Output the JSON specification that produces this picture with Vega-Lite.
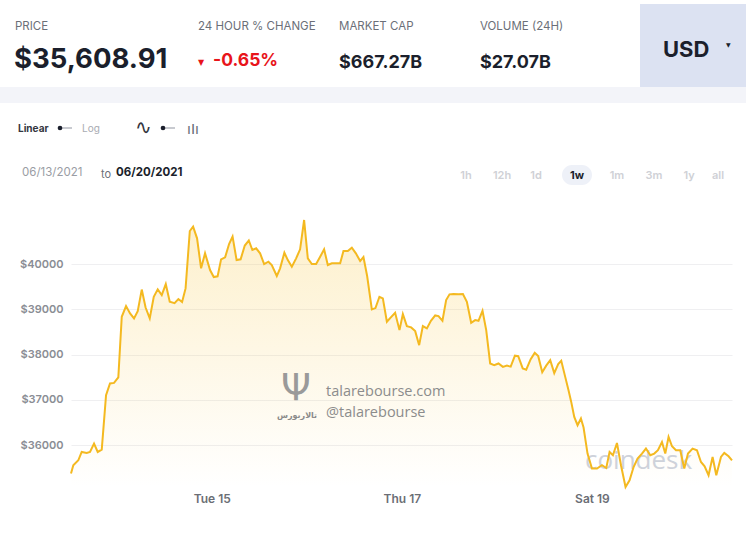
{
  "$schema": "https://vega.github.io/schema/vega-lite/v6.json",
  "autosize": "none",
  "width": 661,
  "height": 267,
  "padding": {"left": 71, "top": 220, "right": 18, "bottom": 50},
  "background": "#ffffff",
  "config": {"view": {"stroke": null}, "font": "Inter"},
  "data": {"values": [
    {"time": "2021-06-13T12:27", "price": 35370},
    {"time": "2021-06-13T13:02", "price": 35554},
    {"time": "2021-06-13T14:18", "price": 35664},
    {"time": "2021-06-13T15:09", "price": 35848},
    {"time": "2021-06-13T16:25", "price": 35826},
    {"time": "2021-06-13T17:15", "price": 35848},
    {"time": "2021-06-13T18:16", "price": 36034},
    {"time": "2021-06-13T19:12", "price": 35848},
    {"time": "2021-06-13T20:13", "price": 35901},
    {"time": "2021-06-13T21:18", "price": 37102},
    {"time": "2021-06-13T22:18", "price": 37361},
    {"time": "2021-06-13T23:19", "price": 37374},
    {"time": "2021-06-14T00:24", "price": 37494},
    {"time": "2021-06-14T01:16", "price": 38834},
    {"time": "2021-06-14T02:21", "price": 39071},
    {"time": "2021-06-14T03:22", "price": 38909},
    {"time": "2021-06-14T04:22", "price": 38799},
    {"time": "2021-06-14T05:18", "price": 38960},
    {"time": "2021-06-14T06:19", "price": 39436},
    {"time": "2021-06-14T07:17", "price": 39038},
    {"time": "2021-06-14T08:20", "price": 38799},
    {"time": "2021-06-14T09:21", "price": 39277},
    {"time": "2021-06-14T10:21", "price": 39440},
    {"time": "2021-06-14T11:22", "price": 39314},
    {"time": "2021-06-14T12:23", "price": 39558},
    {"time": "2021-06-14T13:23", "price": 39166},
    {"time": "2021-06-14T14:36", "price": 39137},
    {"time": "2021-06-14T15:34", "price": 39226},
    {"time": "2021-06-14T16:30", "price": 39159},
    {"time": "2021-06-14T17:23", "price": 39462},
    {"time": "2021-06-14T18:27", "price": 40730},
    {"time": "2021-06-14T19:17", "price": 40825},
    {"time": "2021-06-14T20:17", "price": 40568},
    {"time": "2021-06-14T21:18", "price": 39905},
    {"time": "2021-06-14T22:18", "price": 40237},
    {"time": "2021-06-14T23:34", "price": 39867},
    {"time": "2021-06-15T00:30", "price": 39712},
    {"time": "2021-06-15T01:28", "price": 39728},
    {"time": "2021-06-15T02:21", "price": 40104},
    {"time": "2021-06-15T03:22", "price": 40148},
    {"time": "2021-06-15T04:22", "price": 40442},
    {"time": "2021-06-15T05:15", "price": 40608},
    {"time": "2021-06-15T06:16", "price": 40088},
    {"time": "2021-06-15T07:17", "price": 40104},
    {"time": "2021-06-15T08:20", "price": 40409},
    {"time": "2021-06-15T09:21", "price": 40520},
    {"time": "2021-06-15T10:15", "price": 40310},
    {"time": "2021-06-15T11:12", "price": 40347},
    {"time": "2021-06-15T12:12", "price": 40237},
    {"time": "2021-06-15T13:13", "price": 40000},
    {"time": "2021-06-15T14:18", "price": 40051},
    {"time": "2021-06-15T15:09", "price": 39978},
    {"time": "2021-06-15T16:25", "price": 39735},
    {"time": "2021-06-15T17:15", "price": 39905},
    {"time": "2021-06-15T18:20", "price": 40250},
    {"time": "2021-06-15T19:12", "price": 40088},
    {"time": "2021-06-15T20:13", "price": 39940},
    {"time": "2021-06-15T21:18", "price": 40126},
    {"time": "2021-06-15T22:18", "price": 40325},
    {"time": "2021-06-15T23:19", "price": 40973},
    {"time": "2021-06-16T00:15", "price": 40126},
    {"time": "2021-06-16T01:16", "price": 40000},
    {"time": "2021-06-16T02:21", "price": 40000},
    {"time": "2021-06-16T03:22", "price": 40161},
    {"time": "2021-06-16T04:22", "price": 40325},
    {"time": "2021-06-16T05:18", "price": 39978},
    {"time": "2021-06-16T06:19", "price": 40015},
    {"time": "2021-06-16T07:35", "price": 40015},
    {"time": "2021-06-16T08:25", "price": 40015},
    {"time": "2021-06-16T09:15", "price": 40288},
    {"time": "2021-06-16T10:21", "price": 40288},
    {"time": "2021-06-16T11:22", "price": 40361},
    {"time": "2021-06-16T12:23", "price": 40237},
    {"time": "2021-06-16T13:28", "price": 40066},
    {"time": "2021-06-16T14:18", "price": 40155},
    {"time": "2021-06-16T15:14", "price": 39735},
    {"time": "2021-06-16T16:25", "price": 38998},
    {"time": "2021-06-16T17:20", "price": 39027},
    {"time": "2021-06-16T18:20", "price": 39277},
    {"time": "2021-06-16T19:12", "price": 39241},
    {"time": "2021-06-16T20:13", "price": 38724},
    {"time": "2021-06-16T21:13", "price": 38821},
    {"time": "2021-06-16T22:18", "price": 38923},
    {"time": "2021-06-16T23:24", "price": 38540},
    {"time": "2021-06-17T00:15", "price": 38894},
    {"time": "2021-06-17T01:16", "price": 38629},
    {"time": "2021-06-17T02:21", "price": 38600},
    {"time": "2021-06-17T03:22", "price": 38518},
    {"time": "2021-06-17T04:22", "price": 38208},
    {"time": "2021-06-17T05:18", "price": 38629},
    {"time": "2021-06-17T06:19", "price": 38578},
    {"time": "2021-06-17T07:20", "price": 38746},
    {"time": "2021-06-17T08:25", "price": 38865},
    {"time": "2021-06-17T09:15", "price": 38850},
    {"time": "2021-06-17T10:15", "price": 38746},
    {"time": "2021-06-17T11:11", "price": 39204},
    {"time": "2021-06-17T12:02", "price": 39330},
    {"time": "2021-06-17T13:02", "price": 39336},
    {"time": "2021-06-17T14:18", "price": 39330},
    {"time": "2021-06-17T15:25", "price": 39336},
    {"time": "2021-06-17T16:25", "price": 39166},
    {"time": "2021-06-17T17:30", "price": 38702},
    {"time": "2021-06-17T18:31", "price": 38761},
    {"time": "2021-06-17T19:21", "price": 38746},
    {"time": "2021-06-17T20:22", "price": 38967},
    {"time": "2021-06-17T21:18", "price": 38540},
    {"time": "2021-06-17T22:18", "price": 37803},
    {"time": "2021-06-17T23:19", "price": 37766},
    {"time": "2021-06-18T00:24", "price": 37803},
    {"time": "2021-06-18T01:31", "price": 37728},
    {"time": "2021-06-18T02:32", "price": 37755},
    {"time": "2021-06-18T03:29", "price": 37733},
    {"time": "2021-06-18T04:33", "price": 37976},
    {"time": "2021-06-18T05:23", "price": 37965},
    {"time": "2021-06-18T06:31", "price": 37693},
    {"time": "2021-06-18T07:24", "price": 37666},
    {"time": "2021-06-18T08:32", "price": 37899},
    {"time": "2021-06-18T09:33", "price": 38038},
    {"time": "2021-06-18T10:26", "price": 37965},
    {"time": "2021-06-18T11:27", "price": 37611},
    {"time": "2021-06-18T12:27", "price": 37755},
    {"time": "2021-06-18T13:28", "price": 37876},
    {"time": "2021-06-18T14:29", "price": 37589},
    {"time": "2021-06-18T15:29", "price": 37788},
    {"time": "2021-06-18T16:15", "price": 37861},
    {"time": "2021-06-18T17:15", "price": 37507},
    {"time": "2021-06-18T18:05", "price": 37213},
    {"time": "2021-06-18T18:46", "price": 36954},
    {"time": "2021-06-18T19:32", "price": 36622},
    {"time": "2021-06-18T20:22", "price": 36439},
    {"time": "2021-06-18T21:13", "price": 36587},
    {"time": "2021-06-18T21:53", "price": 36388},
    {"time": "2021-06-18T22:53", "price": 35813},
    {"time": "2021-06-19T00:00", "price": 35481},
    {"time": "2021-06-19T01:16", "price": 35481},
    {"time": "2021-06-19T02:32", "price": 35554},
    {"time": "2021-06-19T03:37", "price": 35494},
    {"time": "2021-06-19T04:27", "price": 35848},
    {"time": "2021-06-19T05:18", "price": 35775},
    {"time": "2021-06-19T06:19", "price": 36047},
    {"time": "2021-06-19T07:20", "price": 35554},
    {"time": "2021-06-19T08:29", "price": 35074},
    {"time": "2021-06-19T09:30", "price": 35222},
    {"time": "2021-06-19T10:31", "price": 35516},
    {"time": "2021-06-19T11:31", "price": 35702},
    {"time": "2021-06-19T12:38", "price": 35813},
    {"time": "2021-06-19T13:38", "price": 35923},
    {"time": "2021-06-19T14:44", "price": 35775},
    {"time": "2021-06-19T15:44", "price": 35813},
    {"time": "2021-06-19T16:40", "price": 35886},
    {"time": "2021-06-19T17:41", "price": 36069},
    {"time": "2021-06-19T18:31", "price": 35813},
    {"time": "2021-06-19T19:21", "price": 36180},
    {"time": "2021-06-19T20:13", "price": 35974},
    {"time": "2021-06-19T21:13", "price": 35886},
    {"time": "2021-06-19T22:18", "price": 35886},
    {"time": "2021-06-19T23:19", "price": 35481},
    {"time": "2021-06-20T00:15", "price": 35813},
    {"time": "2021-06-20T01:25", "price": 35923},
    {"time": "2021-06-20T02:31", "price": 35886},
    {"time": "2021-06-20T03:32", "price": 35627},
    {"time": "2021-06-20T04:27", "price": 35532},
    {"time": "2021-06-20T05:27", "price": 35333},
    {"time": "2021-06-20T06:28", "price": 35737},
    {"time": "2021-06-20T07:24", "price": 35333},
    {"time": "2021-06-20T08:35", "price": 35737},
    {"time": "2021-06-20T09:25", "price": 35826},
    {"time": "2021-06-20T10:30", "price": 35753},
    {"time": "2021-06-20T11:22", "price": 35664}
  ]},
  "layer": [
    {"data": {"values": [{}]}, "mark": {"type": "rect", "x": -71, "x2": 675, "y": -133, "y2": -117, "color": "#f3f4f9"}, "encoding": {}},
    {"data": {"values": [{}]}, "mark": {"type": "rect", "x": 569, "x2": 675, "y": -216, "y2": -133, "color": "#dce2f2"}, "encoding": {}},
    {"data": {"values": [{}]}, "mark": {"type": "text", "text": "PRICE", "x": -56, "y": -190, "align": "left", "baseline": "alphabetic", "fontSize": 11.5, "color": "#6b6f78", "font": "Inter"}},
    {"data": {"values": [{}]}, "mark": {"type": "text", "text": "$35,608.91", "x": -57, "y": -152, "align": "left", "baseline": "alphabetic", "fontSize": 27.5, "fontWeight": 700, "color": "#1b1f2c", "font": "Inter"}},
    {"data": {"values": [{}]}, "mark": {"type": "text", "text": "24 HOUR % CHANGE", "x": 127, "y": -190, "align": "left", "baseline": "alphabetic", "fontSize": 11.5, "color": "#6b6f78", "font": "Inter"}},
    {"data": {"values": [{}]}, "mark": {"type": "text", "text": "▼", "x": 127, "y": -155, "align": "left", "baseline": "alphabetic", "fontSize": 8, "color": "#e8141a", "font": "DejaVu Sans"}},
    {"data": {"values": [{}]}, "mark": {"type": "text", "text": "-0.65%", "x": 142, "y": -154, "align": "left", "baseline": "alphabetic", "fontSize": 17.5, "fontWeight": 700, "color": "#e8141a", "font": "Inter"}},
    {"data": {"values": [{}]}, "mark": {"type": "text", "text": "MARKET CAP", "x": 268, "y": -190, "align": "left", "baseline": "alphabetic", "fontSize": 11.5, "color": "#6b6f78", "font": "Inter"}},
    {"data": {"values": [{}]}, "mark": {"type": "text", "text": "$667.27B", "x": 268, "y": -152, "align": "left", "baseline": "alphabetic", "fontSize": 18, "fontWeight": 700, "color": "#1b1f2c", "font": "Inter"}},
    {"data": {"values": [{}]}, "mark": {"type": "text", "text": "VOLUME (24H)", "x": 409, "y": -190, "align": "left", "baseline": "alphabetic", "fontSize": 11.5, "color": "#6b6f78", "font": "Inter"}},
    {"data": {"values": [{}]}, "mark": {"type": "text", "text": "$27.07B", "x": 409, "y": -152, "align": "left", "baseline": "alphabetic", "fontSize": 18, "fontWeight": 700, "color": "#1b1f2c", "font": "Inter"}},
    {"data": {"values": [{}]}, "mark": {"type": "text", "text": "USD", "x": 592, "y": -163, "align": "left", "baseline": "alphabetic", "fontSize": 22, "fontWeight": 700, "color": "#1b1f2c", "font": "Inter"}},
    {"data": {"values": [{}]}, "mark": {"type": "text", "text": "▼", "x": 655, "y": -173, "align": "left", "baseline": "alphabetic", "fontSize": 6, "color": "#1b1f2c", "font": "DejaVu Sans"}},
    {"data": {"values": [{}]}, "mark": {"type": "text", "text": "Linear", "x": -53, "y": -88, "align": "left", "baseline": "alphabetic", "fontSize": 10, "fontWeight": 700, "color": "#333640", "font": "Inter"}},
    {"data": {"values": [{}]}, "mark": {"type": "rect", "x": -11, "x2": 1, "y": -93, "y2": -91, "color": "#c8cad0"}, "encoding": {}},
    {"data": {"values": [{}]}, "mark": {"type": "point", "x": -11, "y": -92, "filled": true, "size": 22, "color": "#1b1f2c", "opacity": 1}},
    {"data": {"values": [{}]}, "mark": {"type": "text", "text": "Log", "x": 11, "y": -88, "align": "left", "baseline": "alphabetic", "fontSize": 10, "color": "#a8abb2", "font": "Inter"}},
    {"data": {"values": [{}]}, "mark": {"type": "text", "text": "∿", "x": 64, "y": -86, "align": "left", "baseline": "alphabetic", "fontSize": 20, "color": "#333640", "font": "DejaVu Sans"}},
    {"data": {"values": [{}]}, "mark": {"type": "rect", "x": 92, "x2": 104, "y": -93, "y2": -91, "color": "#c8cad0"}, "encoding": {}},
    {"data": {"values": [{}]}, "mark": {"type": "point", "x": 92, "y": -92, "filled": true, "size": 22, "color": "#1b1f2c", "opacity": 1}},
    {"data": {"values": [{}]}, "mark": {"type": "text", "text": "ıIı", "x": 116, "y": -86, "align": "left", "baseline": "alphabetic", "fontSize": 14, "color": "#666a72", "font": "DejaVu Sans"}},
    {"data": {"values": [{}]}, "mark": {"type": "text", "text": "06/13/2021", "x": -49, "y": -44, "align": "left", "baseline": "alphabetic", "fontSize": 11.5, "color": "#9a9da4", "font": "Inter"}},
    {"data": {"values": [{}]}, "mark": {"type": "text", "text": "to", "x": 30, "y": -42, "align": "left", "baseline": "alphabetic", "fontSize": 11, "color": "#6b6f78", "font": "Inter"}},
    {"data": {"values": [{}]}, "mark": {"type": "text", "text": "06/20/2021", "x": 45, "y": -44, "align": "left", "baseline": "alphabetic", "fontSize": 11.5, "fontWeight": 700, "color": "#1b1f2c", "font": "Inter"}},
    {"data": {"values": [{}]}, "mark": {"type": "rect", "x": 491, "x2": 521, "y": -55, "y2": -35, "color": "#eef1f8", "cornerRadius": 10}, "encoding": {}},
    {"data": {"values": [{}]}, "mark": {"type": "text", "text": "1h", "x": 395, "y": -41, "align": "center", "baseline": "alphabetic", "fontSize": 11, "fontWeight": 600, "color": "#cfd1d6", "font": "Inter"}},
    {"data": {"values": [{}]}, "mark": {"type": "text", "text": "12h", "x": 431, "y": -41, "align": "center", "baseline": "alphabetic", "fontSize": 11, "fontWeight": 600, "color": "#cfd1d6", "font": "Inter"}},
    {"data": {"values": [{}]}, "mark": {"type": "text", "text": "1d", "x": 465, "y": -41, "align": "center", "baseline": "alphabetic", "fontSize": 11, "fontWeight": 600, "color": "#cfd1d6", "font": "Inter"}},
    {"data": {"values": [{}]}, "mark": {"type": "text", "text": "1w", "x": 506, "y": -41, "align": "center", "baseline": "alphabetic", "fontSize": 11, "fontWeight": 700, "color": "#1b1f2c", "font": "Inter"}},
    {"data": {"values": [{}]}, "mark": {"type": "text", "text": "1m", "x": 546, "y": -41, "align": "center", "baseline": "alphabetic", "fontSize": 11, "fontWeight": 600, "color": "#cfd1d6", "font": "Inter"}},
    {"data": {"values": [{}]}, "mark": {"type": "text", "text": "3m", "x": 583, "y": -41, "align": "center", "baseline": "alphabetic", "fontSize": 11, "fontWeight": 600, "color": "#cfd1d6", "font": "Inter"}},
    {"data": {"values": [{}]}, "mark": {"type": "text", "text": "1y", "x": 618, "y": -41, "align": "center", "baseline": "alphabetic", "fontSize": 11, "fontWeight": 600, "color": "#cfd1d6", "font": "Inter"}},
    {"data": {"values": [{}]}, "mark": {"type": "text", "text": "all", "x": 647, "y": -41, "align": "center", "baseline": "alphabetic", "fontSize": 11, "fontWeight": 600, "color": "#cfd1d6", "font": "Inter"}},
    {
      "mark": {"type": "area", "interpolate": "linear", "color": {"gradient": "linear", "x1": 0, "y1": 0, "x2": 0, "y2": 1, "stops": [{"offset": 0, "color": "rgba(248,200,70,0.28)"}, {"offset": 1, "color": "rgba(248,200,70,0.0)"}]}},
      "encoding": {
        "x": {"field": "time", "type": "temporal", "scale": {"nice": false},
          "axis": {"title": null, "grid": false, "domain": false, "ticks": false, "labelPadding": 6, "labelColor": "#6b6e75", "labelFontSize": 12, "labelFontWeight": 600, "labelFont": "Inter", "format": "%a %d", "labelFlush": false,
            "values": [{"year": 2021, "month": 6, "date": 15}, {"year": 2021, "month": 6, "date": 17}, {"year": 2021, "month": 6, "date": 19}]}},
        "y": {"field": "price", "type": "quantitative", "stack": null, "scale": {"zero": false, "nice": false},
          "axis": {"title": null, "grid": true, "gridColor": "#efeff1", "domain": false, "ticks": false, "labelPadding": 8, "labelColor": "#8a8d94", "labelFontSize": 11, "labelFontWeight": 600, "labelFont": "Inter", "format": "$d",
            "values": [36000, 37000, 38000, 39000, 40000]}}
      }
    },
    {"data": {"values": [{}]}, "mark": {"type": "text", "text": "Ψ", "x": 225, "y": 180, "align": "center", "baseline": "alphabetic", "fontSize": 38, "color": "#9a9a9a", "font": "DejaVu Sans"}},
    {"data": {"values": [{}]}, "mark": {"type": "text", "text": "تالاربورس", "x": 226, "y": 198, "align": "center", "baseline": "alphabetic", "fontSize": 8, "fontWeight": 700, "color": "#8a8a8a", "font": "DejaVu Sans"}},
    {"data": {"values": [{}]}, "mark": {"type": "text", "text": "talarebourse.com", "x": 255, "y": 176, "align": "left", "baseline": "alphabetic", "fontSize": 14.5, "color": "#8c8c8c", "font": "Open Sans"}},
    {"data": {"values": [{}]}, "mark": {"type": "text", "text": "@talarebourse", "x": 255, "y": 197, "align": "left", "baseline": "alphabetic", "fontSize": 14.5, "color": "#8c8c8c", "font": "Open Sans"}},
    {"data": {"values": [{}]}, "mark": {"type": "text", "text": "coindesk", "x": 514, "y": 249, "align": "left", "baseline": "alphabetic", "fontSize": 26, "color": "#c3c8d3", "opacity": 0.8, "font": "Open Sans"}},
    {
      "mark": {"type": "line", "interpolate": "linear", "color": "#f4b920", "strokeWidth": 2},
      "encoding": {
        "x": {"field": "time", "type": "temporal"},
        "y": {"field": "price", "type": "quantitative"}
      }
    }
  ]
}
